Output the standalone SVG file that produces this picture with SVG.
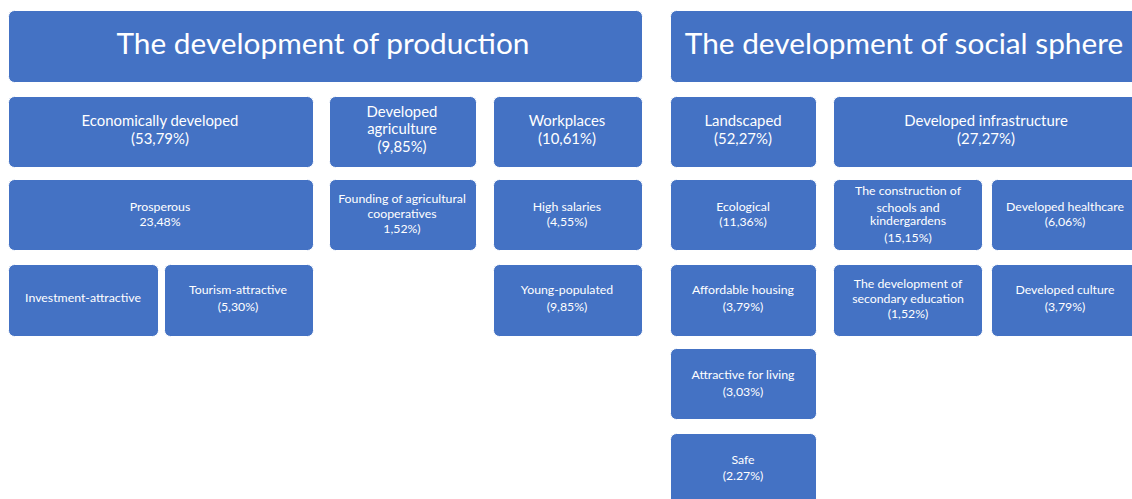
<svg xmlns="http://www.w3.org/2000/svg" width="1132" height="499" viewBox="0 0 1132 499">
  <style>
    .box { fill: #4472C4; stroke: #ffffff; stroke-width: 1; }
    text { fill: #ffffff; font-family: Lato, "Open Sans", "Liberation Sans", sans-serif; text-anchor: middle; }
    .h { font-size: 29.8px; }
    .m { font-size: 14.9px; }
    .s { font-size: 12.3px; }
  </style>
  <rect width="1132" height="499" fill="#ffffff"/>

  <!-- production branch -->
  <g id="production">
    <rect class="box" x="8.5" y="10.5" width="634" height="72" rx="6"/>
    <text class="h" x="323" y="54">The development of production</text>
  </g>
  <g id="economically-developed">
    <rect class="box" x="8.5" y="96.5" width="305" height="71" rx="6"/>
    <text class="m" x="160" y="126">Economically developed</text>
    <text class="m" x="160" y="144">(53,79%)</text>
  </g>
  <g id="developed-agriculture">
    <rect class="box" x="329.5" y="96.5" width="147" height="71" rx="6"/>
    <text class="m" x="402" y="117">Developed</text>
    <text class="m" x="402" y="134">agriculture</text>
    <text class="m" x="402" y="152">(9,85%)</text>
  </g>
  <g id="workplaces">
    <rect class="box" x="493.5" y="96.5" width="149" height="71" rx="6"/>
    <text class="m" x="567" y="126">Workplaces</text>
    <text class="m" x="567" y="144">(10,61%)</text>
  </g>
  <g id="prosperous">
    <rect class="box" x="8.5" y="179.5" width="305" height="71" rx="6"/>
    <text class="s" x="160" y="211">Prosperous</text>
    <text class="s" x="160" y="226">23,48%</text>
  </g>
  <g id="agricultural-cooperatives">
    <rect class="box" x="329.5" y="179.5" width="147" height="71" rx="6"/>
    <text class="s" x="402" y="203">Founding of agricultural</text>
    <text class="s" x="402" y="218">cooperatives</text>
    <text class="s" x="402" y="233">1,52%)</text>
  </g>
  <g id="high-salaries">
    <rect class="box" x="493.5" y="179.5" width="149" height="71" rx="6"/>
    <text class="s" x="567" y="211">High salaries</text>
    <text class="s" x="567" y="226">(4,55%)</text>
  </g>
  <g id="investment-attractive">
    <rect class="box" x="8.5" y="264.5" width="150" height="72" rx="6"/>
    <text class="s" x="83" y="302">Investment-attractive</text>
  </g>
  <g id="tourism-attractive">
    <rect class="box" x="164.5" y="264.5" width="149" height="72" rx="6"/>
    <text class="s" x="238" y="294">Tourism-attractive</text>
    <text class="s" x="238" y="311">(5,30%)</text>
  </g>
  <g id="young-populated">
    <rect class="box" x="493.5" y="264.5" width="149" height="72" rx="6"/>
    <text class="s" x="567" y="294">Young-populated</text>
    <text class="s" x="567" y="311">(9,85%)</text>
  </g>

  <!-- social sphere branch -->
  <g id="social-sphere">
    <rect class="box" x="670.5" y="10.5" width="470" height="72" rx="6"/>
    <text class="h" x="904" y="54">The development of social sphere</text>
  </g>
  <g id="landscaped">
    <rect class="box" x="670.5" y="96.5" width="146" height="71" rx="6"/>
    <text class="m" x="743" y="126">Landscaped</text>
    <text class="m" x="743" y="144">(52,27%)</text>
  </g>
  <g id="developed-infrastructure">
    <rect class="box" x="833.5" y="96.5" width="305" height="71" rx="6"/>
    <text class="m" x="986" y="126">Developed infrastructure</text>
    <text class="m" x="986" y="144">(27,27%)</text>
  </g>
  <g id="ecological">
    <rect class="box" x="670.5" y="179.5" width="146" height="71" rx="6"/>
    <text class="s" x="743" y="211">Ecological</text>
    <text class="s" x="743" y="226">(11,36%)</text>
  </g>
  <g id="schools-kindergardens">
    <rect class="box" x="833.5" y="179.5" width="149" height="71" rx="6"/>
    <text class="s" x="908" y="195">The construction of</text>
    <text class="s" x="908" y="212">schools and</text>
    <text class="s" x="908" y="225">kindergardens</text>
    <text class="s" x="908" y="242">(15,15%)</text>
  </g>
  <g id="developed-healthcare">
    <rect class="box" x="991.5" y="179.5" width="148" height="71" rx="6"/>
    <text class="s" x="1065" y="211">Developed healthcare</text>
    <text class="s" x="1065" y="226">(6,06%)</text>
  </g>
  <g id="affordable-housing">
    <rect class="box" x="670.5" y="264.5" width="146" height="72" rx="6"/>
    <text class="s" x="743" y="294">Affordable housing</text>
    <text class="s" x="743" y="311">(3,79%)</text>
  </g>
  <g id="secondary-education">
    <rect class="box" x="833.5" y="264.5" width="149" height="72" rx="6"/>
    <text class="s" x="908" y="288">The development of</text>
    <text class="s" x="908" y="303">secondary education</text>
    <text class="s" x="908" y="318">(1,52%)</text>
  </g>
  <g id="developed-culture">
    <rect class="box" x="991.5" y="264.5" width="148" height="72" rx="6"/>
    <text class="s" x="1065" y="294">Developed culture</text>
    <text class="s" x="1065" y="311">(3,79%)</text>
  </g>
  <g id="attractive-for-living">
    <rect class="box" x="670.5" y="348.5" width="146" height="71" rx="6"/>
    <text class="s" x="743" y="379">Attractive for living</text>
    <text class="s" x="743" y="396">(3,03%)</text>
  </g>
  <g id="safe">
    <rect class="box" x="670.5" y="433.5" width="146" height="72" rx="6"/>
    <text class="s" x="743" y="464">Safe</text>
    <text class="s" x="743" y="480">(2.27%)</text>
  </g>

  <!-- no connectors are drawn between the blocks -->
  <g id="connectors"/>
</svg>
